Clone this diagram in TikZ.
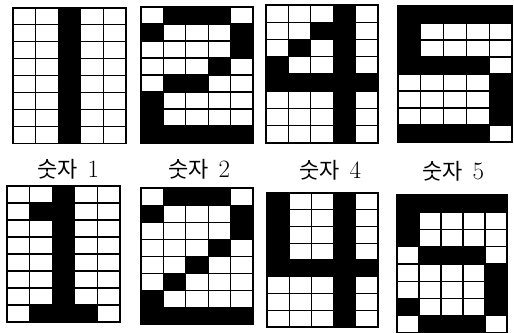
\documentclass[tikz,border=0pt]{standalone}
\usepackage{fontspec}
\newfontfamily\krfont{Noto Sans CJK KR}
\newcommand\cellgrid[4]{%
  \begin{scope}[shift={#1},xscale=#2,yscale=#3]
    \foreach \cols [count=\r] in {#4}{
      \foreach \c in \cols {
        \ifnum\c>0 \fill[black] (\c-1,\r-1) rectangle (\c,\r); \fi
      }
    }
    \foreach \i in {0,...,5} \draw[gridline] (\i,0) -- (\i,8);
    \foreach \j in {0,...,8} \draw[gridline] (0,\j) -- (5,\j);
  \end{scope}}
\newcommand\numlabel[1]{{\krfont\fontsize{22}{24}\selectfont 숫자}\hspace{10pt}{\fontsize{25}{26}\selectfont #1}}
\begin{document}
\begin{tikzpicture}[x=1pt,y=-1pt,
  gridline/.style={line width=1.1pt,black,line cap=rect},
  lab/.style={inner sep=0pt, anchor=base}]
\useasboundingbox (0,0) rectangle (514,332);
% top row
\cellgrid{(13,8)}{22.6}{16.9}{{3},{3},{3},{3},{3},{3},{3},{3}}
\cellgrid{(141,7)}{22.4}{17}{{2,3,4},{1,5},{5},{4},{2,3},{1},{1},{1,2,3,4,5}}
\cellgrid{(266,5)}{22.4}{17.25}{{4},{3,4},{2,4},{1,4},{1,2,3,4,5},{4},{4},{4}}
\cellgrid{(398,6)}{22.8}{17}{{1,2,3,4,5},{1},{1},{1,2,3,4},{5},{5},{5},{1,2,3,4}}
% labels
\node[lab] (l1) at (68,177) {\numlabel{1}};
\node[lab] (l2) at (199,177) {\numlabel{2}};
\node[lab] (l4) at (330,178) {\numlabel{4}};
\node[lab] (l5) at (453,179) {\numlabel{5}};
% bottom row
\cellgrid{(7,186)}{22.6}{17}{{3},{2,3},{3},{3},{3},{3},{3},{2,3,4}}
\cellgrid{(141,188)}{22.4}{17.1}{{2,3,4},{1,5},{5},{4},{3},{2},{1},{1,2,3,4,5}}
\cellgrid{(267,193)}{22.2}{16.75}{{1,4},{1,4},{1,4},{1,4},{1,2,3,4,5},{4},{4},{4}}
\cellgrid{(397,195)}{22}{17.25}{{1,2,3,4,5},{1},{1},{2,3,4},{5},{5},{1,5},{2,3,4}}
\end{tikzpicture}
\end{document}
